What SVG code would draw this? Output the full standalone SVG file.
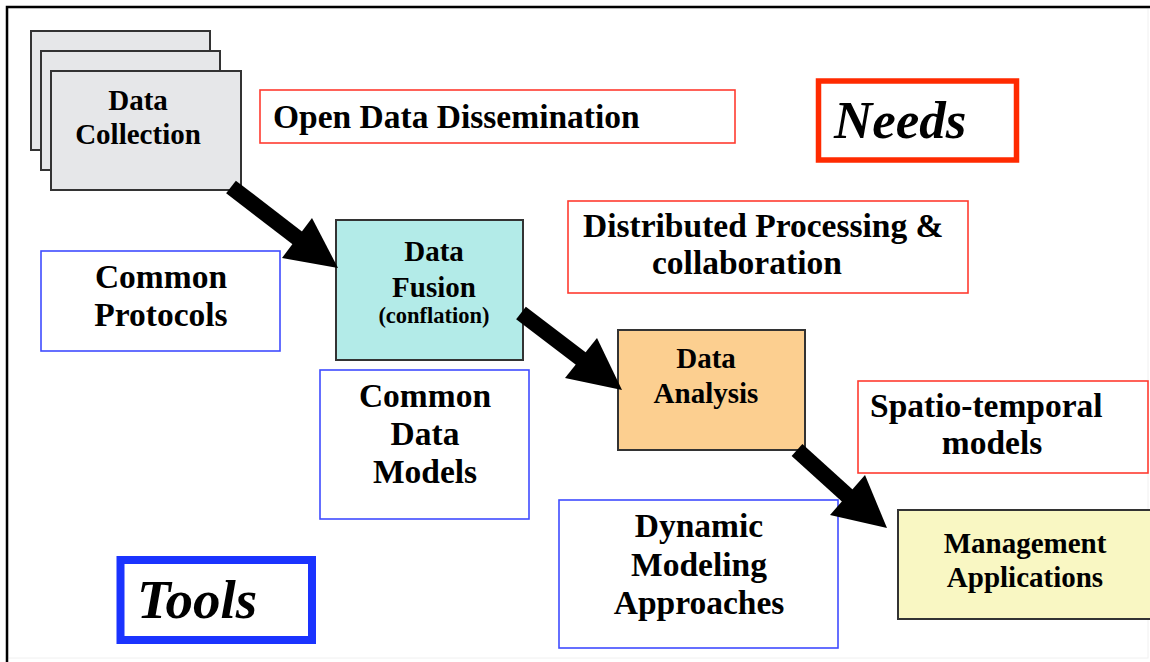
<svg xmlns="http://www.w3.org/2000/svg" width="1150" height="662" viewBox="0 0 1150 662">
<style>
text{font-family:"Liberation Serif","Times New Roman",serif;font-weight:bold;fill:#000}
.node{stroke:#333;stroke-width:2}
.need{fill:#fff;stroke:#ff3b30;stroke-width:1.6}
.tool{fill:#fff;stroke:#3f4cff;stroke-width:1.6}
.lbl{font-size:33.5px;text-anchor:middle}
.big{font-size:33.5px}
.sm{font-size:29px;text-anchor:middle}
.shaft{stroke:#000;stroke-width:16;fill:none}
.head{fill:#000}
</style>
<rect x="0" y="0" width="1150" height="662" fill="#fff"/>
<rect x="8" y="8" width="1140" height="650" fill="none" stroke="#f0f0f0" stroke-width="1"/>
<path d="M7 662 V7 H1150" fill="none" stroke="#000" stroke-width="2.5"/>

<g id="data-collection">
<rect class="node" x="31" y="31" width="179" height="119" fill="#e6e7e9"/>
<rect class="node" x="41" y="51" width="179" height="119" fill="#e6e7e9"/>
<rect class="node" x="51" y="71" width="190" height="119" fill="#e6e7e9"/>
<text class="sm" x="138" y="110">Data</text>
<text class="sm" x="138" y="144">Collection</text>
</g>

<g id="open-data">
<rect class="need" x="260" y="90" width="475" height="53"/>
<text class="big" x="273" y="128">Open Data Dissemination</text>
</g>

<g id="needs">
<rect x="818.5" y="81" width="198" height="79" fill="#fff" stroke="#ff2a00" stroke-width="5.5"/>
<text x="834" y="138" font-size="53" font-style="italic">Needs</text>
</g>

<g id="distributed">
<rect class="need" x="568" y="201" width="400" height="92"/>
<text class="big" x="583" y="237">Distributed Processing &amp;</text>
<text class="big" x="652" y="274">collaboration</text>
</g>

<g id="common-protocols">
<rect class="tool" x="41" y="251" width="239" height="100"/>
<text class="lbl" x="161" y="288">Common</text>
<text class="lbl" x="161" y="326">Protocols</text>
</g>

<g id="data-fusion">
<rect class="node" x="336" y="220" width="187" height="140" fill="#b3ebe8"/>
<text class="sm" x="434" y="261">Data</text>
<text class="sm" x="434" y="297">Fusion</text>
<text x="434" y="323" font-size="22.5" text-anchor="middle">(conflation)</text>
</g>

<g id="common-data-models">
<rect class="tool" x="320" y="370" width="209" height="149"/>
<text class="lbl" x="425" y="407">Common</text>
<text class="lbl" x="425" y="445">Data</text>
<text class="lbl" x="425" y="483">Models</text>
</g>

<g id="data-analysis">
<rect class="node" x="618" y="330" width="187" height="120" fill="#fccf90"/>
<text class="sm" x="706" y="368">Data</text>
<text class="sm" x="706" y="403">Analysis</text>
</g>

<g id="spatio-temporal">
<rect class="need" x="858" y="381" width="290" height="92"/>
<text class="big" x="870" y="417">Spatio-temporal</text>
<text class="lbl" x="992" y="454">models</text>
</g>

<g id="dynamic-modeling">
<rect class="tool" x="559" y="500" width="279" height="148"/>
<text class="lbl" x="699" y="537">Dynamic</text>
<text class="lbl" x="699" y="576">Modeling</text>
<text class="lbl" x="699" y="614">Approaches</text>
</g>

<g id="management">
<rect class="node" x="898" y="510" width="255" height="109" fill="#f9f7c3"/>
<text class="sm" x="1025" y="553">Management</text>
<text class="sm" x="1025" y="587">Applications</text>
</g>

<g id="tools">
<rect x="120.5" y="560" width="191.5" height="80" fill="#fff" stroke="#1a33ff" stroke-width="8"/>
<text x="137" y="618" font-size="55" font-style="italic">Tools</text>
</g>

<g id="connectors">
<line class="shaft" x1="231" y1="187" x2="300" y2="240"/>
<polygon class="head" points="312,218 282,258 338,268"/>
<line class="shaft" x1="521" y1="313" x2="584" y2="361"/>
<polygon class="head" points="597,338 565,378 622,390"/>
<line class="shaft" x1="797" y1="450" x2="850" y2="498"/>
<polygon class="head" points="865,475 830,515 887,528"/>
</g>
</svg>
